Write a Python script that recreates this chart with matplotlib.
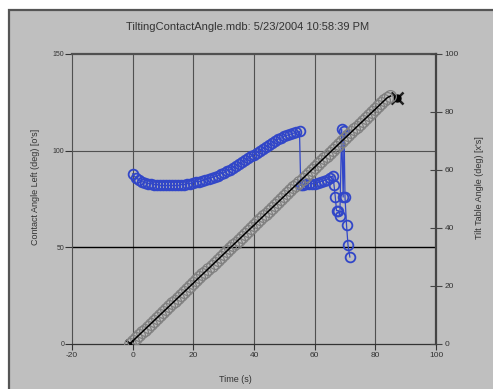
import matplotlib
matplotlib.use("Agg")
import matplotlib.pyplot as plt
from matplotlib.patches import Rectangle

plt.rcParams["font.family"] = ["Liberation Sans", "DejaVu Sans"]
plt.rcParams["axes.unicode_minus"] = False

TITLE = "TiltingContactAngle.mdb: 5/23/2004 10:58:39 PM"

# contact angle (left axis), blue open circles
CA_TIME = [0, 1, 2, 3, 4, 5, 6, 7, 8, 9, 10, 11, 12, 13, 14, 15, 16, 17, 18, 19,
           20, 21, 22, 23, 24, 25, 26, 27, 28, 29, 30, 31, 32, 33, 34, 35, 36, 37, 38, 39,
           40, 41, 42, 43, 44, 45, 46, 47, 48, 49, 50, 51, 52, 53, 54, 55,
           55.4, 56, 57, 58, 59, 60, 61, 62, 63, 64, 65, 66,
           66.4, 66.8, 67.2, 67.8, 68.3, 68.9, 69.4, 69.7, 70.0, 70.5, 71.0, 71.6]
CA_ANGLE = [88, 86, 85, 84, 83.5, 83, 83, 82.5, 82.5, 82, 82, 82, 82, 82, 82, 82, 82.5, 82.5, 83, 83,
            83.5, 84, 84, 84.5, 85, 85.5, 86, 86.5, 87, 88, 88.5, 89.5, 90, 91, 92, 93, 94, 95, 96, 97,
            98, 99, 100, 101, 102, 103, 104, 105, 106, 106.5, 107.5, 108, 108.5, 109, 109.5, 110,
            82, 82.5, 83, 83, 83, 83, 83.5, 84, 84.5, 85, 86, 87,
            82, 76, 69, 69, 66, 111, 76, 110, 76, 61.5, 51, 45]

# tilt table angle (right axis), gray open circles on a black line
TILT_TIME = [-1, 0, 1, 2, 3, 4, 5, 6, 7, 8, 9, 10, 11, 12, 13, 14, 15, 16, 17, 18, 19,
             20, 21, 22, 23, 24, 25, 26, 27, 28, 29, 30, 31, 32, 33, 34, 35, 36, 37, 38, 39,
             40, 41, 42, 43, 44, 45, 46, 47, 48, 49, 50, 51, 52, 53, 54, 55, 56, 57, 58, 59,
             60, 61, 62, 63, 64, 65, 66, 67, 68, 69, 70, 71, 72, 73, 74, 75, 76, 77, 78, 79,
             80, 81, 82, 83, 84, 85]
TILT_ANGLE = [0, 1, 2, 3, 4, 5, 6, 7, 8, 9, 10, 11, 12, 13, 14, 15, 16, 17, 18, 19, 20,
              21, 22, 23, 24, 25, 26, 27, 28, 29, 30, 31, 32, 33, 34, 35, 36, 37, 38, 39, 40,
              41, 42, 43, 44, 45, 46, 47, 48, 49, 50, 51, 52, 53, 54, 55, 56, 57, 58, 59, 60,
              61, 62, 63, 64, 65, 66, 67, 68, 69, 70, 71, 72, 73, 74, 75, 76, 77, 78, 79, 80,
              81, 82, 83, 84, 85, 85.5]
TILT_END = (87, 85)

X_TICKS = [-20, 0, 20, 40, 60, 80, 100]
LEFT_TICKS = [0, 50, 100, 150]
RIGHT_TICKS = [0, 20, 40, 60, 80, 100]

BG = "#bfbfbf"
BLUE = "#3146c8"
W, H = 493, 389

fig = plt.figure(figsize=(W / 100, H / 100), dpi=100)
fig.patch.set_facecolor("white")
fig.patches.append(Rectangle((9 / W, -0.05), 1.1, 1 - 10 / H + 0.05, transform=fig.transFigure,
                             facecolor=BG, edgecolor="#555555", linewidth=1.6, zorder=-5))

ax = fig.add_axes([72 / W, 45 / H, 364 / W, 290 / H])
ax.set_facecolor("none")
ax.set_xlim(-20, 100)
ax.set_ylim(0, 150)
ax.set_xticks(X_TICKS)
ax.set_yticks(LEFT_TICKS)
ax.tick_params(axis="x", labelsize=6, length=4, pad=1.5, color="#333333", labelcolor="#333333")
ax.tick_params(axis="y", labelsize=5, length=5, pad=0.5, color="#333333", labelcolor="#333333")
for x in X_TICKS[1:-1]:
    ax.axvline(x, color="#505050", lw=0.8, zorder=1)
ax.axhline(100, color="#505050", lw=0.8, zorder=1)
ax.axhline(50, color="black", lw=1.0, zorder=1)
ax.spines["top"].set_color("#505050")
ax.spines["top"].set_linewidth(1.6)
ax.spines["left"].set_color("#505050")
ax.spines["left"].set_linewidth(0.8)
ax.spines["bottom"].set_color("#333333")
ax.spines["bottom"].set_linewidth(0.9)
ax.spines["right"].set_visible(False)

ax.plot(CA_TIME, CA_ANGLE, color=BLUE, lw=0.9, marker="o", markersize=7,
        markerfacecolor="none", markeredgecolor=BLUE, markeredgewidth=1.3, zorder=4)

ax2 = ax.twinx()
ax2.set_ylim(0, 100)
ax2.set_yticks(RIGHT_TICKS)
ax2.tick_params(axis="y", labelsize=6, direction="inout", length=8, pad=2,
                color="#444444", labelcolor="#333333")
ax2.spines["right"].set_color("#444444")
ax2.spines["right"].set_linewidth(1.6)
for s in ["top", "left", "bottom"]:
    ax2.spines[s].set_visible(False)

ax2.plot(TILT_TIME, TILT_ANGLE, color="#808080", lw=0, marker="o", markersize=8.5,
         markerfacecolor="none", markeredgewidth=0.9, zorder=3)
ax2.plot(TILT_TIME, TILT_ANGLE, color="black", lw=1.1, zorder=3)
ax2.plot([TILT_TIME[0]], [TILT_ANGLE[0]], marker="x", color="black", markersize=6, mew=1.5)
ax2.plot([TILT_END[0]], [TILT_END[1]], marker="x", color="#222222", markersize=8, mew=1.8)
ax2.plot([TILT_END[0]], [TILT_END[1]], marker="o", color="black", markersize=5)

fig.text(248 / W, 1 - 27 / H, TITLE, ha="center", va="center", fontsize=8, color="#333333")
fig.text(235 / W, 1 - 379 / H, "Time (s)", ha="center", va="center", fontsize=6.5, color="#333333")
fig.text(35 / W, 1 - 187 / H, "Contact Angle Left (deg) [o's]", ha="center", va="center",
         rotation=90, fontsize=6.5, color="#333333")
fig.text(479 / W, 1 - 188 / H, "Tilt Table Angle (deg) [x's]", ha="center", va="center",
         rotation=90, fontsize=6.5, color="#333333")

fig.savefig("out.png", dpi=100)
